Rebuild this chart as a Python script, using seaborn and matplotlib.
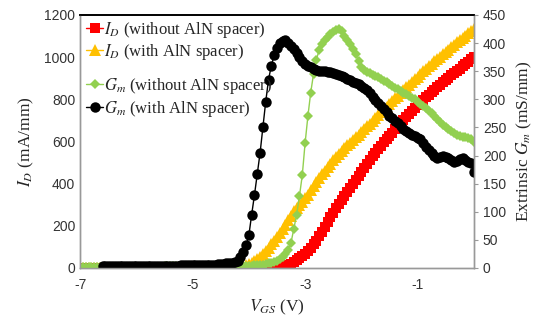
import numpy as np
import pandas as pd
import seaborn as sns
import matplotlib as mpl
mpl.use('Agg')
import matplotlib.pyplot as plt

# gate voltage grid (V), 0.05 V steps from -7 to 0
vgs = np.round(np.linspace(-7, 0, 141), 2)

# I_D without AlN spacer (mA/mm)
id_no_spacer = [0] * 70 + [
    0, 2, 4, 8, 14, 20, 28, 38, 48, 58,
    68, 80, 95, 112, 130, 150, 172, 195, 218, 240,
    262, 283, 303, 322, 340, 360, 380, 400, 418, 436,
    454, 472, 492, 512, 530, 547, 563, 580, 596, 612,
    627, 642, 657, 672, 687, 702, 716, 730, 744, 758,
    771, 784, 797, 810, 822, 834, 846, 858, 869, 880,
    891, 902, 913, 924, 935, 946, 957, 968, 979, 990,
    1000]

# I_D with AlN spacer (mA/mm)
id_spacer = [0] * 50 + [
    0, 0, 0, 0, 1, 2, 3, 5, 8, 12,
    18, 25, 33, 42, 52, 65, 80, 95, 112, 130,
    148, 166, 185, 205, 226, 248, 268, 285, 300, 315,
    330, 348, 368, 388, 408, 426, 444, 462, 479, 495,
    511, 526, 541, 555, 568, 582, 595, 608, 620, 632,
    645, 658, 672, 685, 698, 712, 725, 739, 752, 765,
    778, 791, 805, 818, 832, 845, 858, 870, 883, 895,
    908, 920, 932, 944, 956, 968, 980, 991, 1002, 1014,
    1025, 1036, 1048, 1059, 1070, 1081, 1092, 1102, 1113, 1124,
    1135]

# Gm without AlN spacer (mS/mm)
gm_no_spacer = [2] * 30 + [
    3, 3, 3, 3, 3, 3, 3, 3, 3, 3,
    3, 3, 3, 3, 3, 4, 4, 4, 4, 4,
    4, 4, 4, 4, 4, 4, 4, 4, 4, 4,
    4, 4, 5, 5, 6, 6, 7, 8, 9, 11,
    13, 16, 19, 24, 32, 45, 70, 95, 128, 165,
    222, 270, 312, 345, 370, 388, 398, 405, 411, 416,
    420, 423, 425, 421, 413, 405, 398, 390, 380, 368,
    358, 352, 348, 346, 343, 341, 339, 336, 333, 330,
    327, 324, 321, 318, 315, 312, 309, 306, 303, 300,
    296, 292, 288, 284, 280, 275, 270, 265, 260, 255,
    251, 247, 243, 240, 237, 235, 233, 233, 232, 230,
    224]

# Gm with AlN spacer (mS/mm)
gm_spacer = [np.nan] * 8 + [
    3, 3,
    3, 3, 3, 3, 3, 3, 3, 3, 3, 3,
    3, 3, 3, 4, 4, 4, 4, 4, 4, 4,
    4, 4, 4, 4, 4, 4, 5, 5, 5, 5,
    5, 5, 5, 5, 5, 6, 6, 6, 6, 7,
    7, 7, 8, 8, 9, 10, 12, 20, 28, 40,
    58, 95, 130, 168, 205, 250, 296, 335, 360, 378,
    392, 400, 404, 405, 401, 395, 389, 382, 375, 368,
    363, 360, 357, 354, 352, 351, 350, 350, 349, 348,
    347, 345, 343, 341, 339, 336, 334, 331, 329, 327,
    324, 320, 316, 311, 305, 299, 293, 288, 283, 277,
    271, 266, 262, 258, 252, 247, 243, 240, 237, 234,
    232, 229, 222, 215, 210, 205, 200, 196, 198, 199,
    198, 195, 192, 189, 190, 194, 196, 192, 189, 186,
    170]

id_labels = [r'$I_D$ (without AlN spacer)', r'$I_D$ (with AlN spacer)']
gm_labels = [r'$G_m$ (without AlN spacer)', r'$G_m$ (with AlN spacer)']

df = pd.DataFrame({'vgs': vgs, 'id0': id_no_spacer, 'id1': id_spacer,
                   'gm0': gm_no_spacer, 'gm1': gm_spacer})

sns.set_style('white')
plt.rcParams['font.family'] = ['Liberation Sans', 'DejaVu Sans']
plt.rcParams['mathtext.fontset'] = 'stix'
plt.rcParams['axes.unicode_minus'] = False

fig = plt.figure(figsize=(5.49, 3.26), dpi=100)
ax = fig.add_axes([0.146, 0.178, 0.717, 0.776])
ax2 = ax.twinx()

sns.lineplot(data=df, x='vgs', y='id0', ax=ax, color='#FF0000', marker='s',
             markersize=6.5, markeredgewidth=0, linewidth=1, legend=False)
sns.lineplot(data=df, x='vgs', y='id1', ax=ax, color='#FFC000', marker='^',
             markersize=8.5, markeredgewidth=0, linewidth=1, legend=False)
sns.lineplot(data=df, x='vgs', y='gm0', ax=ax2, color='#92D050', marker='D',
             markersize=5.5, markeredgewidth=0, linewidth=1, legend=False)
sns.lineplot(data=df.dropna(), x='vgs', y='gm1', ax=ax2, color='black', marker='o',
             markersize=7.5, markeredgewidth=0, linewidth=1, legend=False)

ax.set_xlim(-7, 0)
ax.set_ylim(0, 1200)
ax2.set_ylim(0, 450)
ax.set_xticks([-7, -5, -3, -1])
ax.set_yticks(range(0, 1201, 200))
ax2.set_yticks(range(0, 451, 50))

serif = {'family': 'Liberation Serif', 'size': 12.5}
ax.set_xlabel(r'$V_{GS}$ (V)', fontdict=serif, labelpad=4)
ax.set_ylabel(r'$I_D$ (mA/mm)', fontdict=serif, labelpad=6)
ax2.set_ylabel(r'Extrinsic $G_m$ (mS/mm)', fontdict=serif, labelpad=6)

for a in (ax, ax2):
    a.tick_params(labelsize=10, colors='#333333', length=3, width=0.8, color='#999999')
    for side in ('left', 'right', 'bottom'):
        a.spines[side].set_color('#999999')
        a.spines[side].set_linewidth(1)
    a.spines['top'].set_color('black')
    a.spines['top'].set_linewidth(1.2)
ax.tick_params(axis='y', length=0)
ax.tick_params(axis='x', length=4)

h1 = ax.get_lines()
h2 = ax2.get_lines()
leg_font = {'family': 'Liberation Serif', 'size': 12}
leg1 = ax2.legend(h1, id_labels, loc='upper left', bbox_to_anchor=(-0.01, 1.02),
                  frameon=False, prop=leg_font, handlelength=1.0, handletextpad=0.05,
                  labelspacing=0.1, borderaxespad=0.2)
ax2.add_artist(leg1)
ax2.legend(h2, gm_labels, loc='upper left', bbox_to_anchor=(-0.01, 0.8),
           frameon=False, prop=leg_font, handlelength=1.0, handletextpad=0.05,
           labelspacing=0.2, borderaxespad=0.2)

fig.savefig('out.png', dpi=100)
